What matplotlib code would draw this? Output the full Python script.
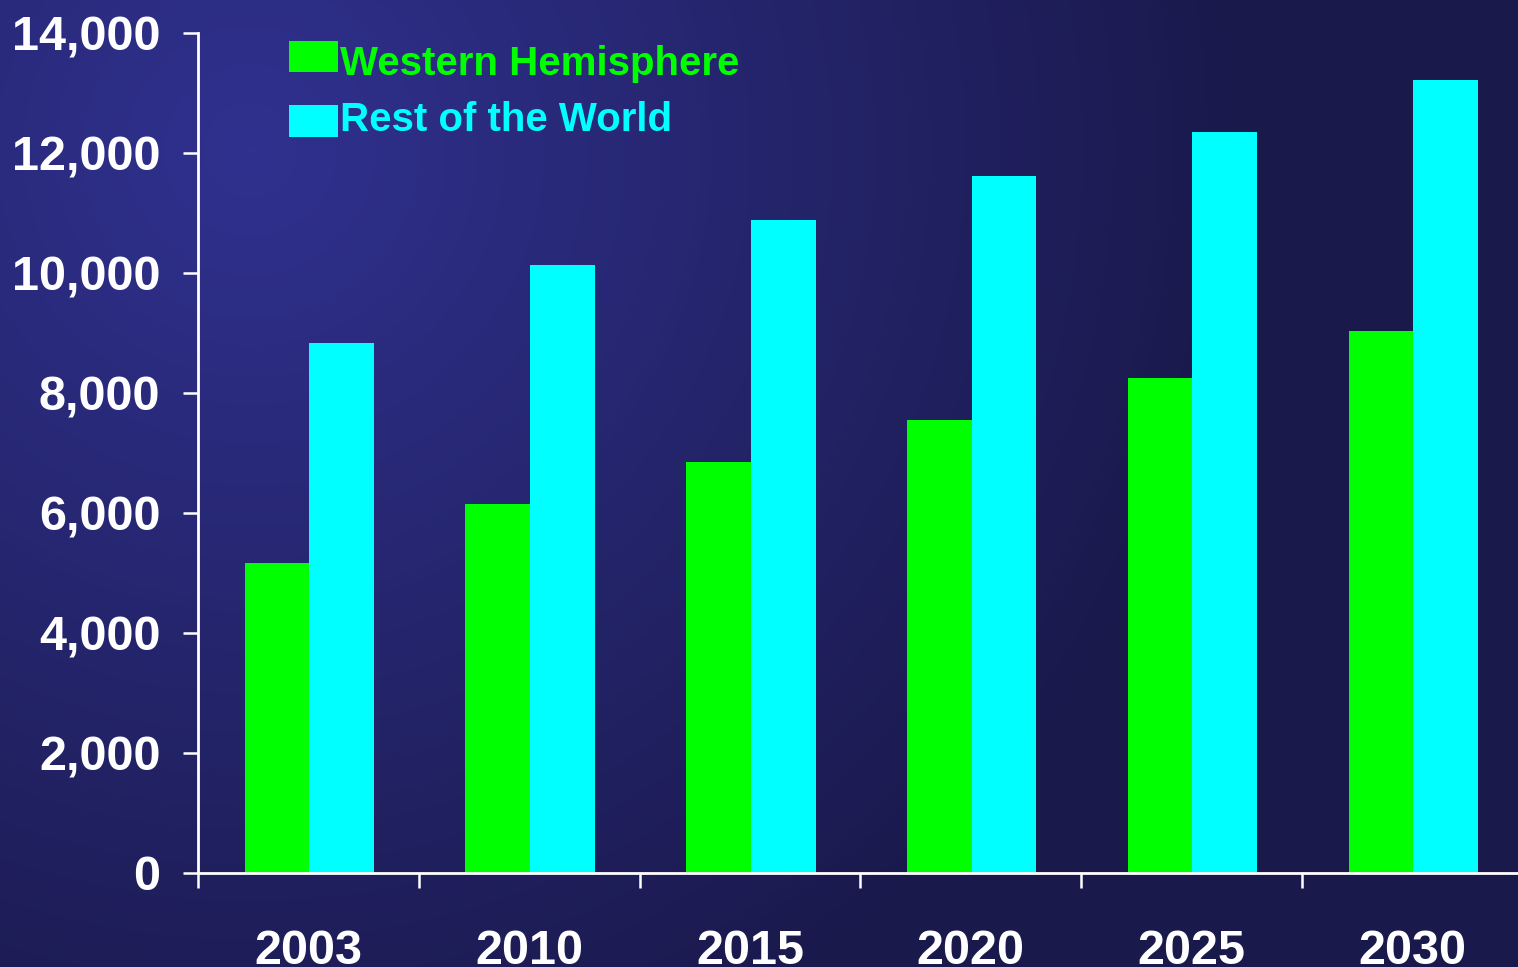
import numpy as np
import matplotlib
matplotlib.use("Agg")
import matplotlib.pyplot as plt
from matplotlib.colors import LinearSegmentedColormap
from matplotlib.patches import Rectangle
from matplotlib.legend_handler import HandlerPatch

years = ["2003", "2010", "2015", "2020", "2025", "2030"]
western = [5170, 6150, 6850, 7550, 8250, 9030]
rest_world = [8830, 10130, 10880, 11620, 12350, 13220]
series_names = ["Western Hemisphere", "Rest of the World"]
yticks = [0, 2000, 4000, 6000, 8000, 10000, 12000, 14000]

W, H = 1518, 967
fig = plt.figure(figsize=(W / 100, H / 100), dpi=100)

# background gradient
bg = fig.add_axes([0, 0, 1, 1], zorder=-10)
yy, xx = np.mgrid[0:H, 0:W]
d = np.sqrt((xx - 250.0) ** 2 + (yy - 150.0) ** 2)
t = np.clip(d / 1000.0, 0, 1)
cmap = LinearSegmentedColormap.from_list("bgc", ["#30318F", "#1A194C"])
bg.imshow(t, cmap=cmap, vmin=0, vmax=1, aspect="auto", extent=[0, W, H, 0])
bg.set_axis_off()

left, right, bottom_px, top_px = 198, 1518, 873, 33
ax = fig.add_axes([left / W, (H - bottom_px) / H, (right - left) / W, (bottom_px - top_px) / H])
ax.patch.set_alpha(0)

x = np.arange(len(years))
bw = 0.293
b1 = ax.bar(x + 0.004, western, width=-bw, align="edge", color="#00FF00", label=series_names[0])
b2 = ax.bar(x + 0.004, rest_world, width=bw, align="edge", color="#00FFFF", label=series_names[1])

ax.set_ylim(0, 14000)
ax.set_xlim(-0.5, -0.5 + (right - left) / 220.8)
ax.set_yticks(yticks)
ax.set_yticklabels([f"{v:,}" for v in yticks])
ax.set_xticks(x)
ax.set_xticklabels(years)
ax.set_xticks(np.arange(len(years)) - 0.5, minor=True)

for s in ["top", "right"]:
    ax.spines[s].set_visible(False)
for s in ["left", "bottom"]:
    ax.spines[s].set_color("white")
    ax.spines[s].set_linewidth(2)

tickfont = dict(family="Liberation Sans", weight="bold", size=35)
ax.tick_params(axis="y", colors="white", length=11, width=1.8, pad=16)
ax.tick_params(axis="x", which="major", length=0, pad=40, colors="white")
ax.tick_params(axis="x", which="minor", length=11, width=1.8, color="white")
for lab in ax.get_yticklabels() + ax.get_xticklabels():
    lab.set_fontproperties(matplotlib.font_manager.FontProperties(**tickfont))
    lab.set_color("white")


def shifted_rect(dy):
    def f(legend, orig_handle, xdescent, ydescent, width, height, fontsize):
        return Rectangle((-xdescent, -ydescent + dy), width, height)
    return f


h1, h2 = b1.patches[0], b2.patches[0]
leg = ax.legend(handles=[h1, h2], labels=series_names, loc="upper left",
                bbox_to_anchor=(0.0566, 1.005),
                frameon=False, prop=dict(family="Liberation Sans", weight="bold", size=29),
                handlelength=1.22, handleheight=0.82, handletextpad=0.05,
                labelspacing=0.45, borderaxespad=0, labelcolor=["#00FF00", "#00FFFF"],
                handler_map={h1: HandlerPatch(patch_func=shifted_rect(3.2)),
                             h2: HandlerPatch(patch_func=shifted_rect(-2.8))})

fig.savefig("out.png", dpi=100)
